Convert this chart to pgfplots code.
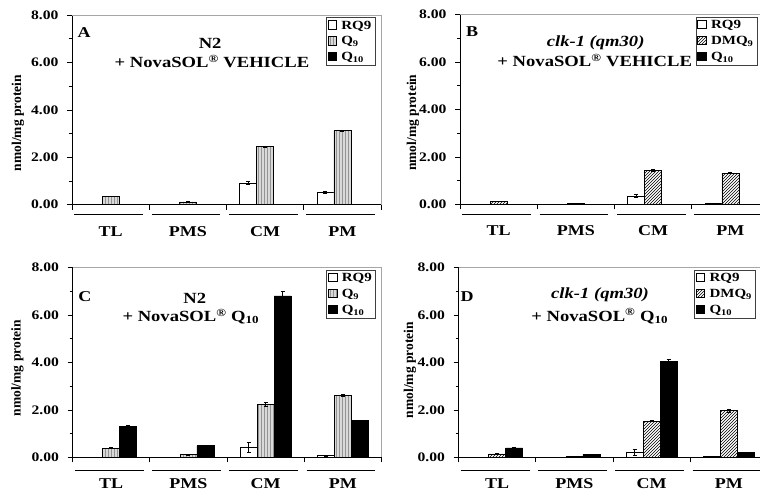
\documentclass[border=0pt]{standalone}
\usepackage{fontspec}
\setmainfont{Liberation Serif}[FakeStretch=1.2]
\newfontfamily\ylfont{Liberation Serif}
\usepackage{pgfplots}
\pgfplotsset{compat=1.18}
\usetikzlibrary{patterns}

% 1 px of the reference = 1 pt here; one category is 77.25pt wide, a bar 17pt (0.22 of a category)
\pgfplotsset{
  panel/.style={
    scale only axis, width=309pt, height=189.6pt,
    xmin=0.5, xmax=4.5, ymin=0, ymax=8,
    axis lines=left, axis line style={-, line width=0.8pt},
    tick align=outside, major tick length=5pt, minor tick length=3pt,
    tick style={black, line width=0.7pt},
    ytick={0,2,4,6,8}, minor ytick={1,3,5,7},
    yticklabel style={font=\fontsize{13}{13}\selectfont\bfseries, xshift=-5pt,
      /pgf/number format/.cd, fixed, fixed zerofill, precision=2, assume math mode=true},
    xtick={0.5,1.5,2.5,3.5,4.5}, xticklabels={},
    extra x ticks={1,2,3,4}, extra x tick labels={TL,PMS,CM,PM},
    extra x tick style={xtick style={draw=none},
      xticklabel style={font=\fontsize{15}{15}\selectfont\bfseries, anchor=base, inner sep=0pt, yshift=-26.5pt}},
    ylabel={nmol/mg protein},
    ylabel style={font=\ylfont\bfseries\fontsize{13.5}{13.5}\selectfont, anchor=center},
    legend cell align=left,
    legend style={at={(0.981,0.99)}, anchor=north east, draw=black!75, line width=0.6pt,
      font=\fontsize{12.5}{12.5}\selectfont\bfseries, inner sep=1.5pt, row sep=2pt,
      /tikz/every odd column/.append style={column sep=2.5pt}},
    clip=false,
  },
  barbase/.style={ybar, bar width=17pt, bar shift=0pt, draw=black, line width=0.6pt,
    /pgfplots/error bars/y dir=both, /pgfplots/error bars/y explicit,
    /pgfplots/error bars/error bar style={black, line width=0.6pt},
    /pgfplots/error bars/error mark options={black, rotate=90, mark size=2pt, line width=0.6pt},
    legend image code/.code={\draw[##1, line width=0.6pt] (0pt,-3.5pt) rectangle (8.5pt,5pt);}},
  rq/.style={barbase, fill=white},
  qnine/.style={barbase, fill=gray!30,
    postaction={pattern=vertical lines, pattern color=gray!85}},
  dmq/.style={barbase, fill=white,
    postaction={pattern=north east lines, pattern color=black}},
  qten/.style={barbase, fill=black},
}
\newcommand{\frameline}{\draw[gray!70, line width=0.6pt] (rel axis cs:0,1) -- (rel axis cs:1,1) -- (rel axis cs:1,0);}
\newcommand{\catlines}[1]{%
  \draw[line width=0.8pt] ([yshift=-#1]axis cs:0.53,0) -- ([yshift=-#1]axis cs:1.42,0);
  \draw[line width=0.8pt] ([yshift=-#1]axis cs:1.53,0) -- ([yshift=-#1]axis cs:2.42,0);
  \draw[line width=0.8pt] ([yshift=-#1]axis cs:2.53,0) -- ([yshift=-#1]axis cs:3.42,0);
  \draw[line width=0.8pt] ([yshift=-#1]axis cs:3.53,0) -- ([yshift=-#1]axis cs:4.42,0);}
\newcommand{\ttl}{\fontsize{15.5}{15.5}\selectfont\bfseries}

\begin{document}
\begin{tikzpicture}
% ---- A : N2 + vehicle
\begin{axis}[panel, at={(72pt,-204.7pt)}, anchor=south west,
  ylabel style={at={(axis description cs:-0.175,0.43)}}]
\addplot[rq] table[x expr=\thisrow{c}-0.22, y=v, y error=e, row sep=\\]
  {c v e\\ 3 0.92 0.08\\ 4 0.53 0.05\\};
\addplot[qnine] table[x=c, y=v, y error=e, row sep=\\]
  {c v e\\ 1 0.36 0.01\\ 2 0.12 0.01\\ 3 2.45 0.02\\ 4 3.12 0.04\\};
\addlegendentry{RQ9}
\addlegendentry{Q\textsubscript{9}}
\addlegendimage{qten}
\addlegendentry{Q\textsubscript{10}}
\frameline
\catlines{10pt}
\node[font=\fontsize{15}{15}\selectfont\bfseries] at (rel axis cs:0.039,0.91) {A};
\node[font=\ttl] at (rel axis cs:0.447,0.852) {N2};
\node[font=\ttl] at (rel axis cs:0.453,0.757) {+ NovaSOL\textsuperscript{®} VEHICLE};
\end{axis}
% ---- B : clk-1 + vehicle
\begin{axis}[panel, at={(460pt,-204.3pt)}, anchor=south west,
  ylabel style={at={(axis description cs:-0.152,0.43)}},
  legend style={at={(0.962,0.99)}}]
\addplot[rq] table[x expr=\thisrow{c}-0.22, y=v, y error=e, row sep=\\]
  {c v e\\ 3 0.35 0.06\\ 4 0.05 0.01\\};
\addplot[dmq] table[x=c, y=v, y error=e, row sep=\\]
  {c v e\\ 1 0.13 0.01\\ 2 0.03 0.01\\ 3 1.43 0.03\\ 4 1.31 0.02\\};
\addlegendentry{RQ9}
\addlegendentry{DMQ\textsubscript{9}}
\addlegendimage{qten}
\addlegendentry{Q\textsubscript{10}}
\frameline
\catlines{10pt}
\node[font=\fontsize{15}{15}\selectfont\bfseries] at (rel axis cs:0.039,0.91) {B};
\node[font=\ttl\itshape] at (rel axis cs:0.439,0.852) {clk-1 (qm30)};
\node[font=\ttl] at (rel axis cs:0.436,0.757) {+ NovaSOL\textsuperscript{®} VEHICLE};
\end{axis}
% ---- C : N2 + Q10
\begin{axis}[panel, at={(72.5pt,-457.3pt)}, anchor=south west,
  ylabel style={at={(axis description cs:-0.178,0.47)}}]
\addplot[rq] table[x expr=\thisrow{c}-0.22, y=v, y error=e, row sep=\\]
  {c v e\\ 3 0.43 0.20\\ 4 0.07 0.03\\};
\addplot[qnine] table[x=c, y=v, y error=e, row sep=\\]
  {c v e\\ 1 0.39 0.02\\ 2 0.11 0.01\\ 3 2.24 0.07\\ 4 2.60 0.04\\};
\addplot[qten] table[x expr=\thisrow{c}+0.22, y=v, y error=e, row sep=\\]
  {c v e\\ 1 1.31 0.04\\ 2 0.49 0.01\\ 3 6.81 0.20\\ 4 1.57 0.01\\};
\legend{RQ9, Q\textsubscript{9}, Q\textsubscript{10}}
\frameline
\catlines{13pt}
\node[font=\fontsize{15}{15}\selectfont\bfseries] at (rel axis cs:0.04,0.847) {C};
\node[font=\ttl] at (rel axis cs:0.396,0.84) {N2};
\node[font=\ttl] at (rel axis cs:0.383,0.742) {+ NovaSOL\textsuperscript{®} Q\textsubscript{10}};
\end{axis}
% ---- D : clk-1 + Q10
\begin{axis}[panel, at={(458.5pt,-457.3pt)}, anchor=south west,
  ylabel style={at={(axis description cs:-0.157,0.46)}},
  legend style={at={(0.962,0.99)}}]
\addplot[rq] table[x expr=\thisrow{c}-0.22, y=v, y error=e, row sep=\\]
  {c v e\\ 3 0.21 0.12\\ 4 0.03 0.01\\};
\addplot[dmq] table[x=c, y=v, y error=e, row sep=\\]
  {c v e\\ 1 0.14 0.02\\ 2 0.04 0.01\\ 3 1.53 0.03\\ 4 1.98 0.06\\};
\addplot[qten] table[x expr=\thisrow{c}+0.22, y=v, y error=e, row sep=\\]
  {c v e\\ 1 0.40 0.01\\ 2 0.12 0.01\\ 3 4.06 0.08\\ 4 0.21 0.01\\};
\legend{RQ9, DMQ\textsubscript{9}, Q\textsubscript{10}}
\frameline
\catlines{13pt}
\node[font=\fontsize{15}{15}\selectfont\bfseries] at (rel axis cs:0.028,0.847) {D};
\node[font=\ttl\itshape] at (rel axis cs:0.458,0.856) {clk-1 (qm30)};
\node[font=\ttl] at (rel axis cs:0.457,0.745) {+ NovaSOL\textsuperscript{®} Q\textsubscript{10}};
\end{axis}
\pgfresetboundingbox
\path[use as bounding box] (0pt,0pt) rectangle (760pt,-491pt);
\end{tikzpicture}
\end{document}
